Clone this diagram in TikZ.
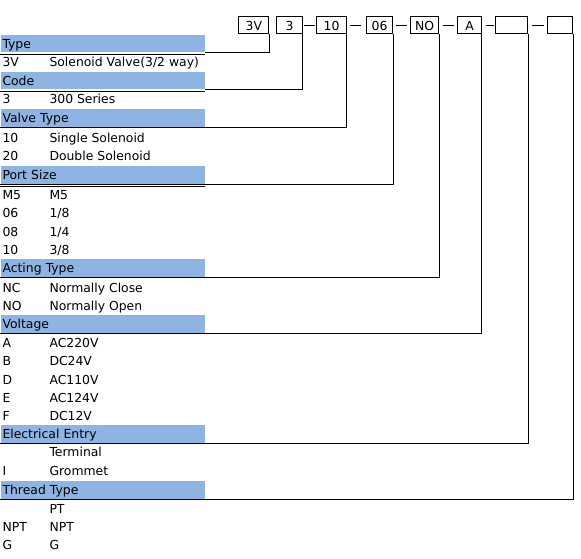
\documentclass[tikz,border=0pt]{standalone}
\usepackage{fontspec}
\setmainfont{DejaVu Sans}
\usepackage{tikz}
\definecolor{hdrblue}{HTML}{8DB4E2}

\begin{document}
\begin{tikzpicture}[x=1pt,y=-1pt,line width=1pt,
    font=\fontsize{12.4}{14}\selectfont,
    codebox/.style={draw,inner sep=0pt,minimum height=17pt,anchor=east},
    hdr/.style={fill=hdrblue,text width=200pt,align=left,inner xsep=2pt,
      inner ysep=0pt,text height=9pt,text depth=0pt,minimum height=17.5pt,
      anchor=south west},
    hdrrule/.style={double,line width=0.6pt,double distance=1.1pt},
    key/.style={anchor=base west,inner sep=0pt},
    txt/.style={anchor=base west,inner sep=0pt}]
  \useasboundingbox (0,0) rectangle (581,559);

  % Order code boxes
  \node[codebox,minimum width=30pt]   (bType)  at (269.3,25.5) {3V};
  \node[codebox,minimum width=25.4pt] (bCode)  at (302.7,25.5) {3};
  \node[codebox,minimum width=29.4pt] (bValve) at (346.7,25.5) {10};
  \node[codebox,minimum width=26.6pt] (bPort)  at (393.3,25.5) {06};
  \node[codebox,minimum width=28.3pt] (bAct)   at (439.3,25.5) {NO};
  \node[codebox,minimum width=23.4pt] (bVolt)  at (481.7,25.5) {A};
  \node[codebox,minimum width=32.3pt] (bElec)  at (528.3,25.5) {};
  \node[codebox,minimum width=25pt]   (bThr)   at (573.3,25.5) {};

  % Dashes between boxes
  \draw[shorten <=1pt,shorten >=1pt] (bCode) -- (bValve);
  \draw[shorten <=3.5pt,shorten >=5pt] (bValve) -- (bPort);
  \draw[shorten <=3pt,shorten >=3pt] (bPort) -- (bAct);
  \draw[shorten <=3.5pt,shorten >=3.5pt] (bAct) -- (bVolt);
  \draw[shorten <=4.5pt,shorten >=1pt] (bVolt) -- (bElec);
  \draw[shorten <=3.5pt,shorten >=3.5pt] (bElec) -- (bThr);

  % Section headers
  \node[hdr] (hType)  at (0,53)    {Type};
  \node[hdr] (hCode)  at (0,90)    {Code};
  \node[hdr] (hValve) at (0,127.3) {Valve Type};
  \node[hdr] (hPort)  at (0,184.5) {Port Size};
  \node[hdr] (hAct)   at (0,277.3) {Acting Type};
  \node[hdr] (hVolt)  at (0,333.3) {Voltage};
  \node[hdr] (hElec)  at (0,443.3) {Electrical Entry};
  \node[hdr] (hThr)   at (0,499.3) {Thread Type};
  \foreach \h in {hType,hCode,hValve,hPort,hAct,hVolt,hElec,hThr}
    \draw[hdrrule] ([yshift=-0.9pt]\h.south west) -- ([yshift=-0.9pt]\h.south east);

  % Leader lines from boxes to headers
  \draw (bType.south east)  |- (hType.south east);
  \draw (bCode.south east)  |- (hCode.south east);
  \draw (bValve.south east) |- (hValve.south east);
  \draw (bPort.south east)  |- (hPort.south east);
  \draw (bAct.south east)   |- (hAct.south east);
  \draw (bVolt.south east)  |- (hVolt.south east);
  \draw (bElec.south east)  |- (hElec.south east);
  \draw (bThr.south east)   |- (hThr.south east);

  % Type
  \node[key] (k3V) at (2,66.7) {3V};
  \node[txt] (d3V) at (49,66.7) {Solenoid Valve(3/2 way)};
  % Code
  \node[key] (k300) at (2,104) {3};
  \node[txt] (d300) at (49,104) {300 Series};
  % Valve type
  \node[key] (k10v) at (2,142.7) {10};
  \node[txt] (d10v) at (49,142.7) {Single Solenoid};
  \node[key] (k20v) at (2,160.7) {20};
  \node[txt] (d20v) at (49,160.7) {Double Solenoid};
  % Port size
  \node[key] (kM5) at (2,199.3) {M5};
  \node[txt] (dM5) at (49,199.3) {M5};
  \node[key] (k06) at (2,217.7) {06};
  \node[txt] (d06) at (49,217.7) {1/8};
  \node[key] (k08) at (2,236) {08};
  \node[txt] (d08) at (49,236) {1/4};
  \node[key] (k10p) at (2,254) {10};
  \node[txt] (d10p) at (49,254) {3/8};
  % Acting type
  \node[key] (kNC) at (2,292.7) {NC};
  \node[txt] (dNC) at (49,292.7) {Normally Close};
  \node[key] (kNO) at (2,310.7) {NO};
  \node[txt] (dNO) at (49,310.7) {Normally Open};
  % Voltage
  \node[key] (kA) at (2,347.3) {A};
  \node[txt] (dA) at (49,347.3) {AC220V};
  \node[key] (kB) at (2,365.6) {B};
  \node[txt] (dB) at (49,365.6) {DC24V};
  \node[key] (kD) at (2,384) {D};
  \node[txt] (dD) at (49,384) {AC110V};
  \node[key] (kE) at (2,402.7) {E};
  \node[txt] (dE) at (49,402.7) {AC124V};
  \node[key] (kF) at (2,420.7) {F};
  \node[txt] (dF) at (49,420.7) {DC12V};
  % Electrical entry
  \node[txt] (dTerm) at (49,456.7) {Terminal};
  \node[key] (kI) at (2,475) {I};
  \node[txt] (dI) at (49,475) {Grommet};
  % Thread type
  \node[txt] (dPT) at (49,513.3) {PT};
  \node[key] (kNPT) at (2,531.7) {NPT};
  \node[txt] (dNPT) at (49,531.7) {NPT};
  \node[key] (kG) at (2,549.3) {G};
  \node[txt] (dG) at (49,549.3) {G};
\end{tikzpicture}
\end{document}
